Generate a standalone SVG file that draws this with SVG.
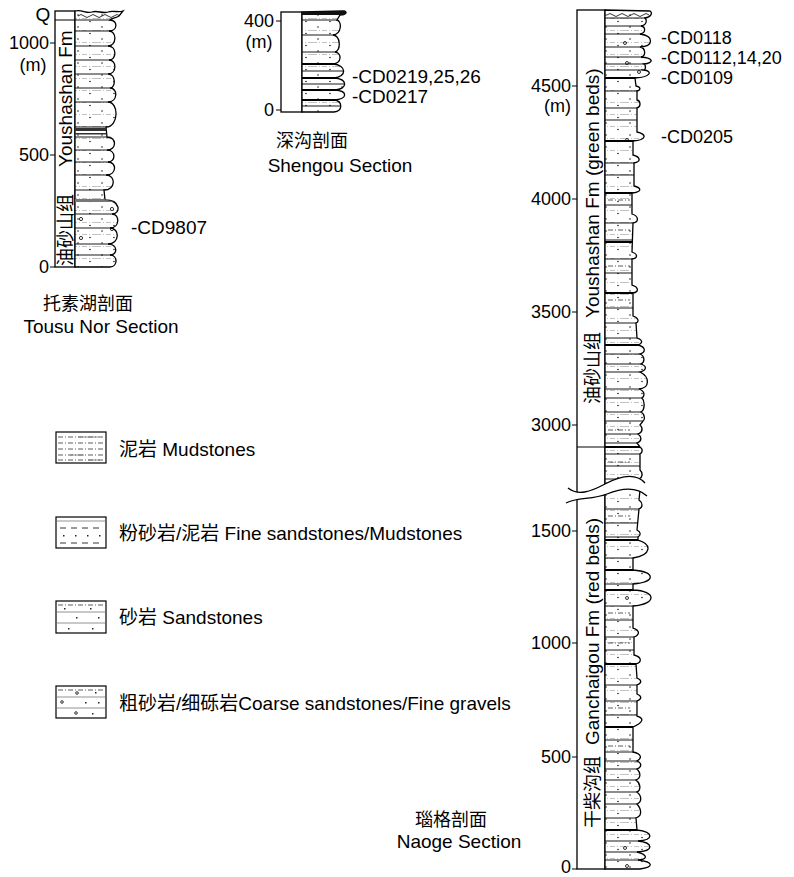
<svg xmlns="http://www.w3.org/2000/svg" width="794" height="877" viewBox="0 0 794 877">
<style>
.t{font-family:"Liberation Sans","Noto Sans CJK SC",sans-serif;font-size:19px;fill:#000}
.k{font-family:"Liberation Sans",sans-serif;font-size:18px;fill:#000}
.c{font-family:"Noto Sans CJK SC","Liberation Sans",sans-serif;font-size:18px;fill:#000}
.e{text-anchor:end}
.m{text-anchor:middle}
.box{fill:#fff;stroke:#000;stroke-width:1.3}
.ol{fill:url(#pcol);stroke:#000;stroke-width:1.3}
.bed{stroke:#000;stroke-width:0.9;fill:none}
.thk{stroke:#000;stroke-width:2;fill:none}
.tick{stroke:#000;stroke-width:1;fill:none}
.gr{stroke:#777;stroke-width:0.8;fill:none}
.dl{stroke:#333;stroke-width:0.8;fill:none;stroke-dasharray:5 2 1 2}
.pb{fill:none;stroke:#000;stroke-width:0.8}
.lg{fill:#fff;stroke:#000;stroke-width:1.2}
</style>
<defs>
<pattern id="pcol" width="24" height="12" patternUnits="userSpaceOnUse">
<rect width="24" height="12" fill="#fff"/>
<path d="M0 6.5H24" stroke="#999" stroke-width="0.6" stroke-dasharray="5 2 1 2"/>
<circle cx="6" cy="3" r="0.8" fill="#222"/>
<circle cx="18" cy="9.5" r="0.8" fill="#222"/>
</pattern>
<clipPath id="cT"><path d="M75,11 C82,9 86,14 92,12 C98,10 102,14 108,12 C113,10 118,13 123,11 L119,16 C116,18 112,18 110,20 C118,20 118,31 109,31 C117,31 117,46 108,46 C117,46 117,60 109,60 C117,60 117,74 108,74 C116,74 116,88 110,88 C118,88 118,102 108,102 C119,102 119,127 106,127 L107,137 C117,137 117,150 107,150 C116,150 116,162 108,162 C117,162 117,175 106,175 C116,175 116,190 104,190 L105,200 C121,200 121,214 112,214 C120,214 120,228 110,228 C120,228 120,244 108,244 C118,244 118,255 110,255 C118,255 118,267 110,267 L75,267 Z"/></clipPath>
<clipPath id="cS"><path d="M302,12 L344,11 C348,12 346,15 340,15 L337,20 C342,21 342,34 333,35 C341,36 341,51 335,52 C342,53 342,63 333,64 C347,65 347,77 334,78 C348,79 348,89 335,90 C348,91 348,99 334,100 C343,101 343,111 334,112 L302,112 Z"/></clipPath>
<clipPath id="cN"><path d="M605,10 L650,11 C653,13 651,17 645,18 C647,20 647,25 641,26 C646,27 646,33 640,34 C654,36 654,46 640,47 C646,48 646,56 641,57 C654,58 654,63 644,64 C646,65 646,69 644,70 C652,71 652,77 635,78 L636,86 C641,87 641,90 637,91 L637,100 C641,101 641,107 637,108 L637,132 C647,134 647,140 633,141 L633,155 C641,157 641,162 634,163 L634,186 C642,188 642,192 632,193 L632,214 C639,216 639,222 633,223 L632,252 C638,254 638,258 632,259 L632,285 C639,287 639,292 633,293 L633,316 C639,318 639,322 636,323 L637,338 C643,340 643,343 638,345 C646,347 646,352 640,354 C645,356 645,362 641,364 C647,366 647,370 640,372 C650,377 650,388 639,389 C645,391 645,396 642,398 C645,401 645,410 641,412 C645,414 645,420 643,421 L640,425 C643,428 643,432 638,434 C642,437 642,441 637,443 L640,447 C643,449 643,452 640,454 L640,470 C643,473 643,477 639,479 L640,490 L639,500 C643,503 643,507 639,509 L637,530 C641,532 641,535 638,537 L638,540 C652,544 652,555 633,558 L633,570 C656,572 656,582 633,584 L633,590 C657,591 657,604 633,606 L633,628 C640,630 640,635 634,637 L634,655 C642,657 642,662 636,664 L637,678 C642,680 642,683 637,685 L637,694 C642,696 642,699 637,701 L637,716 C644,718 644,722 633,727 L633,752 C642,754 642,758 637,761 C642,763 642,767 637,769 C641,773 641,778 636,780 C641,784 641,790 637,792 C642,796 642,802 637,804 C642,810 642,816 636,818 L637,830 C654,832 654,840 638,841 C654,843 654,851 637,852 C648,855 648,859 638,860 C654,862 654,867 640,869 L605,869 Z"/></clipPath>
</defs>

<!-- Tousu Nor section -->
<g id="tousu">
<rect class="box" x="55" y="11" width="20" height="256"/>
<path class="tick" d="M55 20H75M50 43H55M50 155H55M50 267H55"/>
<path class="ol" d="M75,11 C82,9 86,14 92,12 C98,10 102,14 108,12 C113,10 118,13 123,11 L119,16 C116,18 112,18 110,20 C118,20 118,31 109,31 C117,31 117,46 108,46 C117,46 117,60 109,60 C117,60 117,74 108,74 C116,74 116,88 110,88 C118,88 118,102 108,102 C119,102 119,127 106,127 L107,137 C117,137 117,150 107,150 C116,150 116,162 108,162 C117,162 117,175 106,175 C116,175 116,190 104,190 L105,200 C121,200 121,214 112,214 C120,214 120,228 110,228 C120,228 120,244 108,244 C118,244 118,255 110,255 C118,255 118,267 110,267 L75,267 Z"/>
<g clip-path="url(#cT)">
<path class="bed" d="M75 20H130M75 31H130M75 46H130M75 60H130M75 74H130M75 88H130M75 102H130M75 127H130M75 137H130M75 150H130M75 162H130M75 175H130M75 190H130M75 200H130M75 214H130M75 228H130M75 244H130M75 255H130"/>
<path class="pb" d="M78 16q3,-3 6,0t6,0t6,0t6,0t6,0t6,0t6,0"/>
<rect x="75" y="128" width="40" height="3" fill="#333"/>
<rect x="75" y="133" width="40" height="1.5" fill="#333"/>
<rect x="75" y="199" width="50" height="3" fill="#777"/>
<circle class="pb" cx="112" cy="209" r="1.6"/>
<circle class="pb" cx="81" cy="219" r="1.6"/>
<circle class="pb" cx="112" cy="229" r="1.6"/>
<circle class="pb" cx="81" cy="238" r="1.6"/>
</g>
<text class="t m" x="43" y="21">Q</text>
<text class="k e" x="49" y="49">1000</text>
<text class="k m" x="33" y="71">(m)</text>
<text class="k e" x="49" y="161">500</text>
<text class="k e" x="49" y="273">0</text>
<text class="c" transform="translate(72,266) rotate(-90)">油砂山组</text>
<text class="t" transform="translate(72,167) rotate(-90)">Youshashan Fm</text>
<text class="t" x="131" y="234">-CD9807</text>
<text class="c m" x="88" y="310">托素湖剖面</text>
<text class="t m" x="101" y="333">Tousu Nor Section</text>
</g>

<!-- Shengou section -->
<g id="shengou">
<rect class="box" x="281" y="12" width="21" height="100"/>
<path class="tick" d="M276 21H281M276 110H281"/>
<path class="ol" d="M302,12 L344,11 C348,12 346,15 340,15 L337,20 C342,21 342,34 333,35 C341,36 341,51 335,52 C342,53 342,63 333,64 C347,65 347,77 334,78 C348,79 348,89 335,90 C348,91 348,99 334,100 C343,101 343,111 334,112 L302,112 Z"/>
<g clip-path="url(#cS)">
<rect x="302" y="10" width="50" height="5" fill="#111"/>
<path class="bed" d="M302 20H350M302 35H350M302 52H350M302 71H350M302 84H350M302 106H350"/>
<path class="thk" d="M302 64H350M302 78H350M302 90H350M302 100H350"/>
</g>
<text class="k e" x="274" y="27">400</text>
<text class="k m" x="259" y="48">(m)</text>
<text class="k e" x="274" y="116">0</text>
<text class="t" x="352" y="83">-CD0219,25,26</text>
<text class="t" x="352" y="103">-CD0217</text>
<text class="c m" x="312" y="147">深沟剖面</text>
<text class="t m" x="340" y="172">Shengou Section</text>
</g>

<!-- Naoge section -->
<g id="naoge">
<rect class="box" x="577" y="10" width="28" height="859"/>
<path class="tick" d="M572 86H577M572 199H577M572 312H577M572 425H577M572 531H577M572 643H577M572 757H577M572 869H577"/>
<path class="ol" d="M605,10 L650,11 C653,13 651,17 645,18 C647,20 647,25 641,26 C646,27 646,33 640,34 C654,36 654,46 640,47 C646,48 646,56 641,57 C654,58 654,63 644,64 C646,65 646,69 644,70 C652,71 652,77 635,78 L636,86 C641,87 641,90 637,91 L637,100 C641,101 641,107 637,108 L637,132 C647,134 647,140 633,141 L633,155 C641,157 641,162 634,163 L634,186 C642,188 642,192 632,193 L632,214 C639,216 639,222 633,223 L632,252 C638,254 638,258 632,259 L632,285 C639,287 639,292 633,293 L633,316 C639,318 639,322 636,323 L637,338 C643,340 643,343 638,345 C646,347 646,352 640,354 C645,356 645,362 641,364 C647,366 647,370 640,372 C650,377 650,388 639,389 C645,391 645,396 642,398 C645,401 645,410 641,412 C645,414 645,420 643,421 L640,425 C643,428 643,432 638,434 C642,437 642,441 637,443 L640,447 C643,449 643,452 640,454 L640,470 C643,473 643,477 639,479 L640,490 L639,500 C643,503 643,507 639,509 L637,530 C641,532 641,535 638,537 L638,540 C652,544 652,555 633,558 L633,570 C656,572 656,582 633,584 L633,590 C657,591 657,604 633,606 L633,628 C640,630 640,635 634,637 L634,655 C642,657 642,662 636,664 L637,678 C642,680 642,683 637,685 L637,694 C642,696 642,699 637,701 L637,716 C644,718 644,722 633,727 L633,752 C642,754 642,758 637,761 C642,763 642,767 637,769 C641,773 641,778 636,780 C641,784 641,790 637,792 C642,796 642,802 637,804 C642,810 642,816 636,818 L637,830 C654,832 654,840 638,841 C654,843 654,851 637,852 C648,855 648,859 638,860 C654,862 654,867 640,869 L605,869 Z"/>
<g clip-path="url(#cN)">
<path class="pb" d="M607 15q3,-3 6,0t6,0t6,0t6,0t6,0t6,0t6,0"/>
<path class="bed" d="M605 18H660M605 26H660M605 34H660M605 47H660M605 57H660M605 64H660M605 70H660M605 91H660M605 108H660M605 120H660M605 163H660M605 175H660M605 205H660M605 223H660M605 240H660M605 259H660M605 273H660M605 308H660M605 323H660M605 338H660M605 354H660M605 364H660M605 372H660M605 389H660M605 398H660M605 412H660M605 421H660M605 434H660M605 443H660M605 454H660M605 466H660M605 479H660M605 509H660M605 523H660M605 537H660M605 558H660M605 584H660M605 606H660M605 620H660M605 637H660M605 650H660M605 685H660M605 701H660M605 715H660M605 740H660M605 752H660M605 761H660M605 769H660M605 780H660M605 792H660M605 804H660M605 818H660M605 841H660M605 852H660M605 860H660"/>
<path class="thk" d="M605 78H660M605 141H660M605 193H660M605 242H660M605 293H660M605 345H660M605 540H660M605 570H660M605 590H660M605 664H660M605 727H660M605 830H660"/>
<path class="dl" d="M608 200H630M608 230H630M608 266H630M608 300H630M608 430H630M608 462H630M608 516H630M608 613H630M608 643H630M608 708H630M608 746H630"/>
<circle class="pb" cx="625" cy="43" r="1.5"/>
<circle class="pb" cx="627" cy="63" r="1.5"/>
<circle class="pb" cx="639" cy="72" r="1.5"/>
<circle class="pb" cx="627" cy="140" r="1.5"/>
<circle class="pb" cx="627" cy="598" r="1.5"/>
<circle class="pb" cx="625" cy="848" r="1.5"/>
<circle class="pb" cx="627" cy="866" r="1.5"/>
</g>
<path d="M605 447H640" class="thk"/>
<path d="M577 447H605" class="tick" stroke-width="1.3"/>
<path d="M568,488 C578,496 590,492 605,484 C620,476 635,472 645,483 L647,496 C636,486 622,488 607,494 C592,500 578,497 566,503 Z" fill="#fff"/>
<path d="M568,488 C578,496 590,492 605,484 C620,476 635,472 645,483 M566,503 C578,497 592,500 607,494 C622,488 636,486 647,496" fill="none" stroke="#000" stroke-width="1.3"/>
<text class="k e" x="571" y="92">4500</text>
<text class="k e" x="571" y="112">(m)</text>
<text class="k e" x="571" y="205">4000</text>
<text class="k e" x="571" y="318">3500</text>
<text class="k e" x="571" y="431">3000</text>
<text class="k e" x="571" y="537">1500</text>
<text class="k e" x="571" y="649">1000</text>
<text class="k e" x="571" y="763">500</text>
<text class="k e" x="571" y="873">0</text>
<text class="c" transform="translate(599,404) rotate(-90)">油砂山组</text>
<text class="t" transform="translate(599,318) rotate(-90)">Youshashan Fm (green beds)</text>
<text class="c" transform="translate(599,828) rotate(-90)">干柴沟组</text>
<text class="t" transform="translate(599,745) rotate(-90)">Ganchaigou Fm (red beds)</text>
<text class="k" x="661" y="44">-CD0118</text>
<text class="k" x="661" y="64">-CD0112,14,20</text>
<text class="k" x="661" y="84">-CD0109</text>
<text class="k" x="661" y="143">-CD0205</text>
<text class="c m" x="451" y="826">瑙格剖面</text>
<text class="t m" x="459" y="848">Naoge Section</text>
</g>

<!-- Legend -->
<g id="legend-mud">
<rect class="lg" x="56" y="432" width="50" height="31"/>
<path class="dl" d="M58 437H104M58 443H104M58 449H104M58 455H104M58 460H104"/>
<path class="gr" stroke-width="1.5" d="M78 437H98M70 455H84M88 460H100"/>
<text class="t" x="119" y="456">泥岩 Mudstones</text>
</g>
<g id="legend-fine">
<rect class="lg" x="56" y="517" width="50" height="31"/>
<path class="gr" stroke-width="2" stroke="#aaa" d="M57 521H105"/>
<path class="pb" stroke-dasharray="6 5" d="M60 528H104M60 543H104"/>
<path fill="#222" d="M63 535h1.5v1.5h-1.5zM75 535h1.5v1.5h-1.5zM87 535h1.5v1.5h-1.5zM99 535h1.5v1.5h-1.5z"/>
<text class="t" x="119" y="540">粉砂岩/泥岩 Fine sandstones/Mudstones</text>
</g>
<g id="legend-sand">
<rect class="lg" x="56" y="601" width="50" height="32"/>
<path class="dl" d="M58 605H104"/>
<path class="gr" d="M57 612H105M57 623H105"/>
<path fill="#222" d="M64 608h1.5v1.5h-1.5zM90 608h1.5v1.5h-1.5zM76 617h1.5v1.5h-1.5zM98 617h1.5v1.5h-1.5zM68 628h1.5v1.5h-1.5zM92 628h1.5v1.5h-1.5z"/>
<text class="t" x="119" y="624">砂岩 Sandstones</text>
</g>
<g id="legend-coarse">
<rect class="lg" x="56" y="686" width="50" height="32"/>
<path class="dl" d="M58 690H104"/>
<path class="gr" d="M57 697H105M57 708H105"/>
<circle class="pb" cx="77" cy="693" r="1.3"/><circle class="pb" cx="62" cy="702" r="1.3"/><circle class="pb" cx="76" cy="713" r="1.3"/>
<path fill="#222" d="M95 692h1.5v1.5h-1.5zM85 702h1.5v1.5h-1.5zM98 702h1.5v1.5h-1.5zM92 713h1.5v1.5h-1.5z"/>
<text class="t" x="119" y="710">粗砂岩/细砾岩Coarse sandstones/Fine gravels</text>
</g>
</svg>
